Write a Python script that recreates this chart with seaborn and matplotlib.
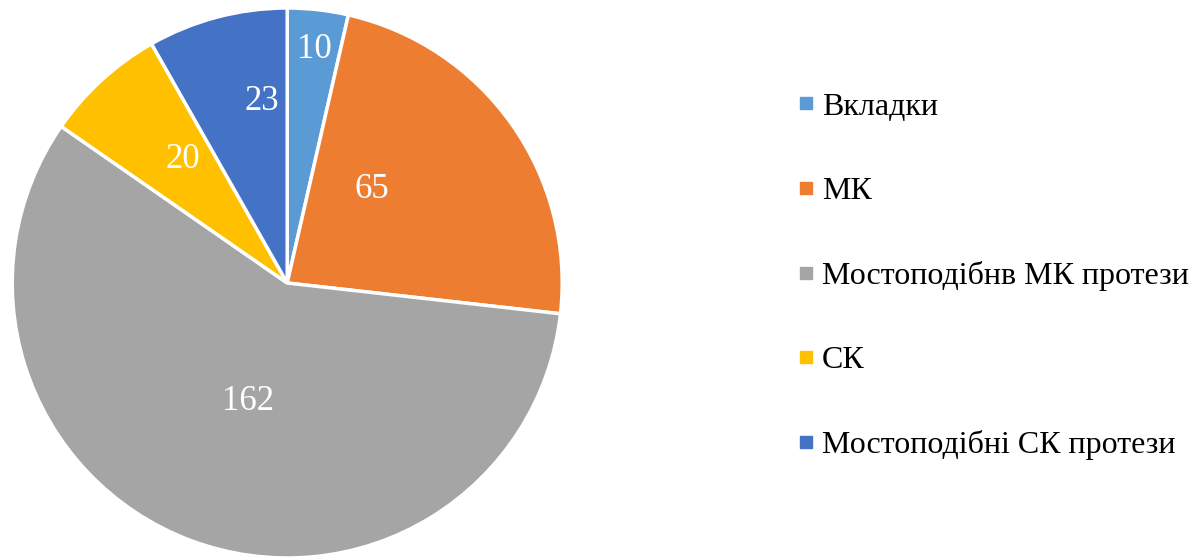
"""Pie chart of prosthesis types."""

import matplotlib

matplotlib.use("Agg")
import matplotlib.pyplot as plt
import numpy as np
import seaborn as sns
from matplotlib.lines import Line2D

sns.set_theme(style="white")
plt.rcParams["font.family"] = ["Liberation Serif", "DejaVu Serif"]

categories = ["Вкладки", "МК", "Мостоподібнв МК протези", "СК", "Мостоподібні СК протези"]
counts = [10, 65, 162, 20, 23]
colors = ["#5B9BD5", "#ED7D31", "#A5A5A5", "#FFC000", "#4472C4"]

# label placement per wedge (Excel "best fit" look): radius fraction, angle shift in deg
label_radius = [0.87, 0.47, 0.44, 0.60, 0.68]
label_shift = [0.0, 13.7, 1.9, -3.0, -7.0]

fig = plt.figure(figsize=(12, 5.58), dpi=100)
ax = fig.add_axes([0.0102, 0.0, 0.4583, 0.9857])

wedges, _ = ax.pie(
    counts,
    colors=colors,
    startangle=90,
    counterclock=False,
    wedgeprops={"edgecolor": "white", "linewidth": 2.5},
)
ax.set_xlim(-1, 1)
ax.set_ylim(-1, 1)
ax.set_aspect("equal")

for w, val, r, s in zip(wedges, counts, label_radius, label_shift):
    ang = np.deg2rad((w.theta1 + w.theta2) / 2 + s)
    ax.text(r * np.cos(ang), r * np.sin(ang), str(val), ha="center",
            va="center_baseline", color="white", fontsize=25)

handles = [
    Line2D([], [], marker="s", linestyle="", markersize=8, color=c) for c in colors
]
fig.legend(
    handles,
    categories,
    loc="center left",
    bbox_to_anchor=(0.640, 0.505),
    frameon=False,
    fontsize=23,
    labelcolor="black",
    handlelength=0.6,
    handletextpad=0.18,
    labelspacing=1.72,
)

fig.savefig("out.png", dpi=100)
plt.close(fig)
